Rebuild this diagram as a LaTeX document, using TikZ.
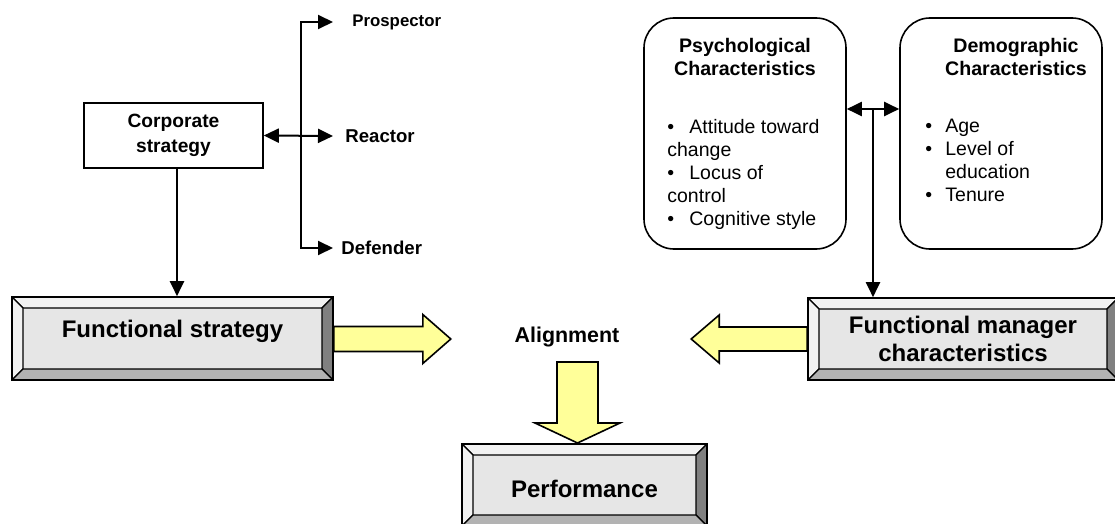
\documentclass[tikz,border=0pt]{standalone}
\usepackage{fontspec}
\setmainfont{Liberation Sans}
\usepackage{tikz}
\usetikzlibrary{positioning, arrows.meta}
\definecolor{facegray}{RGB}{230,230,230}
\definecolor{bevlight}{RGB}{242,242,242}
\definecolor{bevmid}{RGB}{178,178,178}
\definecolor{bevdark}{RGB}{128,128,128}
\definecolor{arrowyellow}{RGB}{255,255,153}

\begin{document}
\begin{tikzpicture}[x=0.5pt, y=-0.5pt,
  bevel/.style={draw, line width=0.8pt, fill=facegray, align=center, inner sep=0pt,
                font=\bfseries\fontsize{12}{14}\selectfont,
                path picture={
                  \path (path picture bounding box.north west) coordinate (bnw)
                        (path picture bounding box.north east) coordinate (bne)
                        (path picture bounding box.south west) coordinate (bsw)
                        (path picture bounding box.south east) coordinate (bse);
                  \path ([shift={(5.5pt,-5.5pt)}]bnw) coordinate (inw)
                        ([shift={(-5.5pt,-5.5pt)}]bne) coordinate (ine)
                        ([shift={(5.5pt,5.5pt)}]bsw) coordinate (isw)
                        ([shift={(-5.5pt,5.5pt)}]bse) coordinate (ise);
                  \filldraw[fill=bevlight, line width=0.6pt] (bnw) -- (bne) -- (ine) -- (inw) -- cycle;
                  \filldraw[fill=bevlight, line width=0.6pt] (bnw) -- (inw) -- (isw) -- (bsw) -- cycle;
                  \filldraw[fill=bevdark, line width=0.6pt] (bne) -- (bse) -- (ise) -- (ine) -- cycle;
                  \filldraw[fill=bevmid, line width=0.6pt] (bsw) -- (isw) -- (ise) -- (bse) -- cycle;
                }},
  plainbox/.style={draw, line width=0.8pt, align=center, inner sep=0pt,
                   font=\bfseries\fontsize{9.6}{12.2}\selectfont},
  charbox/.style={draw, line width=0.8pt, rounded corners=15pt,
                  minimum width=101pt, minimum height=115.5pt},
  hdr/.style={align=center, inner sep=0pt, font=\bfseries\fontsize{9.8}{11.5}\selectfont},
  body/.style={align=left, inner sep=0pt, anchor=north west, font=\fontsize{9.75}{11.5}\selectfont},
  lbl/.style={inner sep=0pt, anchor=west, font=\bfseries\fontsize{9.3}{11}\selectfont},
  arr/.style={-{Triangle[length=7.5pt,width=7pt]}, line width=1pt},
  dblarr/.style={{Triangle[length=7.5pt,width=7pt]}-{Triangle[length=7.5pt,width=7pt]}, line width=1pt},
  blockarr/.style={draw, line width=0.8pt, fill=arrowyellow, line join=miter}]

  \useasboundingbox (0,0) rectangle (1115,524);

  %% strategy side
  \node[plainbox, minimum width=89.5pt, minimum height=32.5pt] (corp) at (173.5,135.5)
       {Corporate\\strategy};
  \coordinate (fork) at (301,136);
  \coordinate (ptip) at (333,22);
  \coordinate (rtip) at (333,136);
  \coordinate (dtip) at (333,248);
  \node[lbl, font=\bfseries\fontsize{8.4}{10}\selectfont, right=9.5pt of ptip] (prosp) {Prospector};
  \node[lbl, right=6pt of rtip] (react) {Reactor};
  \node[lbl, right=4pt of dtip] (defend) {Defender};

  \node[bevel, minimum width=160.5pt, minimum height=41.5pt, text height=9pt, text depth=10.5pt]
       (fstrat) at (172.5,338.5) {Functional strategy};

  %% manager side
  \node[charbox] (psych) at (745,133.5) {};
  \node[charbox] (demo)  at (1001,133.5) {};
  \node[hdr, below=10.5pt of psych.north] (psychhd) {Psychological\\Characteristics};
  \node[hdr, below=10.5pt of demo.north, xshift=7.5pt] (demohd) {Demographic\\Characteristics};
  \node[body] (psychlist) at (667,119)
       {\makebox[11pt][l]{\textbullet}Attitude toward\\change\\
        \makebox[11pt][l]{\textbullet}Locus of\\control\\
        \makebox[11pt][l]{\textbullet}Cognitive style};
  \node[body] (demolist) at (925,119)
       {\makebox[10pt][l]{\textbullet}Age\\
        \makebox[10pt][l]{\textbullet}Level of\\\hspace*{10pt}education\\
        \makebox[10pt][l]{\textbullet}Tenure};
  \coordinate (mid) at (873,109);

  \node[bevel, minimum width=155pt, minimum height=41pt] (fmgr) at (963,339)
       {Functional manager\\characteristics};

  %% centre
  \node[inner sep=0pt, font=\bfseries\fontsize{10.7}{12}\selectfont] (align) at (567,337) {Alignment};
  \node[bevel, minimum width=122.5pt, minimum height=41pt, text height=13pt, text depth=1pt]
       (perf) at (584.5,485) {Performance};

  %% arrows
  \draw[arr] ([xshift=1.75pt]corp.south) -- ([xshift=1.75pt]corp.south |- fstrat.north);
  \draw[dblarr] (corp.east) -- (rtip);
  \draw[arr] (fork) |- (ptip);
  \draw[arr] (fork) |- (dtip);
  \draw[dblarr] (psych.east |- mid) -- (demo.west |- mid);
  \draw[arr] (mid) -- (mid |- fmgr.north);

  \draw[blockarr] (fstrat.east) ++(0,-12) -- ++(89,0) -- ++(0,-12) -- ++(28,24.5)
        -- ++(-28,24.5) -- ++(0,-12) -- ++(-89,0) -- cycle;
  \draw[blockarr] (fmgr.west) ++(0,-12) -- ++(-88,0) -- ++(0,-12) -- ++(-28,24)
        -- ++(28,24) -- ++(0,-12) -- ++(88,0) -- cycle;
  \draw[blockarr] (557,362) -- (598,362) -- (598,423) -- (620,423) -- (577.5,443)
        -- (535,423) -- (557,423) -- cycle;
\end{tikzpicture}
\end{document}
